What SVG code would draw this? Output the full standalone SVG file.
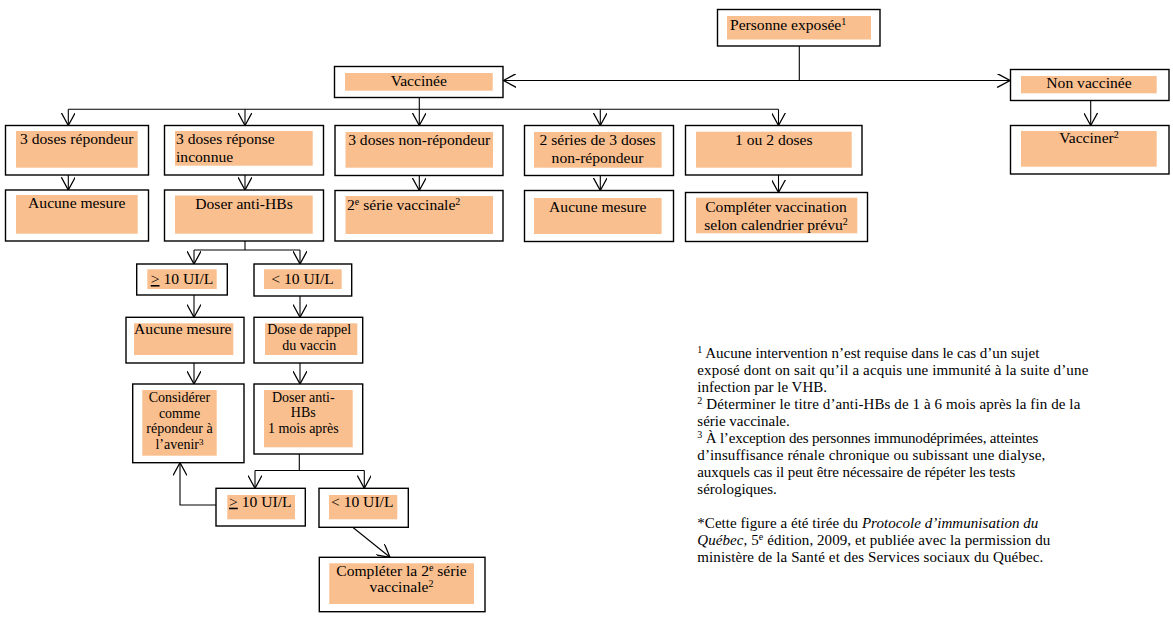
<svg xmlns="http://www.w3.org/2000/svg" width="1173" height="618" viewBox="0 0 1173 618">
<style>
.box{fill:#fff;stroke:#000;stroke-width:1.4}
.fl{fill:#F9BF8F;stroke:none}
.t{font-family:"Liberation Serif","Times New Roman",serif;font-size:15.6px;fill:#000}
.s{font-size:14px}
.c{text-anchor:middle}
.fn{font-family:"Liberation Serif","Times New Roman",serif;font-size:15px;fill:#000}
.con path{fill:none;stroke:#000;stroke-width:1.1}
</style>
<defs>
<marker id="arr" markerUnits="userSpaceOnUse" markerWidth="14" markerHeight="14" refX="11" refY="6" orient="auto-start-reverse" viewBox="0 0 12 12">
<path d="M0,0 L11,6 L0,12" fill="none" stroke="#000" stroke-width="1.1"/>
</marker>
</defs>
<rect width="1173" height="618" fill="#fff"/>

<g class="con">
<path d="M799.3,46 V80.5"/>
<path d="M503.5,80.5 H1010" marker-start="url(#arr)" marker-end="url(#arr)"/>
<path d="M419.3,97.5 V109.3"/>
<path d="M68.3,109.3 H778.5"/>
<path d="M68.3,109.3 V125.5" marker-end="url(#arr)"/>
<path d="M245,109.3 V125.5" marker-end="url(#arr)"/>
<path d="M419.3,109.3 V125.5" marker-end="url(#arr)"/>
<path d="M600.3,109.3 V125.5" marker-end="url(#arr)"/>
<path d="M778.5,109.3 V125.5" marker-end="url(#arr)"/>
<path d="M68.3,175 V190" marker-end="url(#arr)"/>
<path d="M245,175 V190" marker-end="url(#arr)"/>
<path d="M419.3,175.5 V190.5" marker-end="url(#arr)"/>
<path d="M600.3,175.5 V190.5" marker-end="url(#arr)"/>
<path d="M778.5,175 V192.5" marker-end="url(#arr)"/>
<path d="M1090.7,100.5 V125.5" marker-end="url(#arr)"/>
<path d="M245,241 V250 M194,250 H300"/>
<path d="M194,250 V264" marker-end="url(#arr)"/>
<path d="M300,250 V264" marker-end="url(#arr)"/>
<path d="M194,295 V317.3" marker-end="url(#arr)"/>
<path d="M300,296 V317.3" marker-end="url(#arr)"/>
<path d="M194,363 V384" marker-end="url(#arr)"/>
<path d="M300,363 V384" marker-end="url(#arr)"/>
<path d="M299.3,454 V470.5 M255,470.5 H364.3"/>
<path d="M255,470.5 V488.3" marker-end="url(#arr)"/>
<path d="M364.3,470.5 V488.3" marker-end="url(#arr)"/>
<path d="M216,505 H180 V462.7" marker-end="url(#arr)"/>
<path d="M352.7,527.3 L390,557.3" marker-end="url(#arr)"/>
</g>

<g id="personne">
<rect class="box" x="717.5" y="9.5" width="162.5" height="36.5"/>
<rect class="fl" x="727" y="16" width="144" height="23.5"/>
<text class="t" x="730" y="30">Personne exposée<tspan font-size="10" dy="-5">1</tspan></text>
</g>
<g id="vaccinee">
<rect class="box" x="334.5" y="66.5" width="168.5" height="31"/>
<rect class="fl" x="345" y="73" width="147.7" height="17.7"/>
<text class="t c" x="418.8" y="86">Vaccinée</text>
</g>
<g id="nonvaccinee">
<rect class="box" x="1010.5" y="69.5" width="158.5" height="31"/>
<rect class="fl" x="1021" y="76" width="135.7" height="17.3"/>
<text class="t c" x="1089" y="88.3">Non vaccinée</text>
</g>
<g id="vacciner">
<rect class="box" x="1010.5" y="125.5" width="158.5" height="48.5"/>
<rect class="fl" x="1021" y="131" width="135.7" height="35.7"/>
<text class="t c" x="1089" y="142.7">Vacciner<tspan font-size="10" dy="-5">2</tspan></text>
</g>

<g id="a1">
<rect class="box" x="5.5" y="125.5" width="143" height="49.5"/>
<rect class="fl" x="16" y="131" width="121.7" height="36.7"/>
<text class="t c" x="76.8" y="144">3 doses répondeur</text>
</g>
<g id="b1">
<rect class="box" x="164.5" y="125.5" width="159" height="49.5"/>
<rect class="fl" x="175" y="131" width="137.7" height="34.7"/>
<text class="t" x="176" y="144">3 doses réponse</text>
<text class="t" x="176" y="161.5">inconnue</text>
</g>
<g id="c1">
<rect class="box" x="335" y="125.5" width="168" height="50"/>
<rect class="fl" x="345.5" y="132" width="147.5" height="35.7"/>
<text class="t c" x="419.2" y="145">3 doses non-répondeur</text>
</g>
<g id="d1">
<rect class="box" x="524.5" y="125.5" width="149" height="50"/>
<rect class="fl" x="534" y="132" width="127.6" height="35.7"/>
<text class="t c" x="597.5" y="145">2 séries de 3 doses</text>
<text class="t c" x="597.5" y="162.5">non-répondeur</text>
</g>
<g id="e1">
<rect class="box" x="685.5" y="125.5" width="176.5" height="49.5"/>
<rect class="fl" x="696" y="131.7" width="155.7" height="36"/>
<text class="t c" x="773.8" y="145">1 ou 2 doses</text>
</g>

<g id="a2">
<rect class="box" x="5.5" y="190" width="143" height="51"/>
<rect class="fl" x="16" y="195" width="121.7" height="38.7"/>
<text class="t c" x="76.8" y="207.5">Aucune mesure</text>
</g>
<g id="b2">
<rect class="box" x="164.5" y="190" width="159" height="51"/>
<rect class="fl" x="175" y="195.5" width="137.7" height="38.2"/>
<text class="t c" x="244" y="208.5">Doser anti-HBs</text>
</g>
<g id="c2">
<rect class="box" x="335" y="190.5" width="168" height="50.5"/>
<rect class="fl" x="345.5" y="196" width="147.5" height="38"/>
<text class="t" x="347" y="209.5">2<tspan font-size="10" dy="-5">e</tspan><tspan dy="5"> série vaccinale</tspan><tspan font-size="10" dy="-5">2</tspan></text>
</g>
<g id="d2">
<rect class="box" x="524.5" y="190.5" width="149" height="51"/>
<rect class="fl" x="534" y="198" width="127.6" height="36"/>
<text class="t c" x="597.8" y="212">Aucune mesure</text>
</g>
<g id="e2">
<rect class="box" x="685.5" y="192.5" width="182" height="49"/>
<rect class="fl" x="696" y="197.7" width="161.3" height="35.6"/>
<text class="t c" x="776" y="212">Compléter vaccination</text>
<text class="t c" x="776" y="229.5">selon calendrier prévu<tspan font-size="10" dy="-5">2</tspan></text>
</g>

<g id="ge10a">
<rect class="box" x="136.7" y="264" width="90.6" height="31"/>
<rect class="fl" x="147.3" y="269.3" width="69.4" height="19.7"/>
<text class="t c" x="182" y="284"><tspan text-decoration="underline">&gt;</tspan> 10 UI/L</text>
</g>
<g id="lt10a">
<rect class="box" x="254" y="264" width="97.7" height="32"/>
<rect class="fl" x="264" y="269.3" width="77.7" height="19.7"/>
<text class="t c" x="302.6" y="284">&lt; 10 UI/L</text>
</g>
<g id="aucune3">
<rect class="box" x="126" y="317.3" width="118" height="45.7"/>
<rect class="fl" x="134" y="323.3" width="99.3" height="31.7"/>
<text class="t c" x="182.8" y="334" font-size="13.5px">Aucune mesure</text>
</g>
<g id="rappel">
<rect class="box" x="254" y="317.3" width="108.7" height="45.7"/>
<rect class="fl" x="265" y="323.3" width="92.3" height="31.7"/>
<text class="t c s" x="309.2" y="334">Dose de rappel</text>
<text class="t c s" x="309.2" y="349.5">du vaccin</text>
</g>
<g id="considerer">
<rect class="box" x="132.7" y="384" width="111.3" height="78.7"/>
<rect class="fl" x="142.3" y="390" width="74.4" height="65.7"/>
<text class="t c s" x="179.5" y="401.7">Considérer</text>
<text class="t c s" x="179.5" y="417.7">comme</text>
<text class="t c s" x="179.5" y="433.3">répondeur à</text>
<text class="t c s" x="179.5" y="448.8">l’avenir<tspan font-size="9" dy="-4">3</tspan></text>
</g>
<g id="doser2">
<rect class="box" x="254" y="384" width="108.7" height="70"/>
<rect class="fl" x="264" y="390" width="88.7" height="57.3"/>
<text class="t c s" x="303.3" y="401.7">Doser anti-</text>
<text class="t c s" x="303.3" y="416.7">HBs</text>
<text class="t c s" x="303.3" y="432.7">1 mois après</text>
</g>
<g id="ge10b">
<rect class="box" x="216" y="488.3" width="89.3" height="37.7"/>
<rect class="fl" x="227.3" y="495" width="67.7" height="24.3"/>
<text class="t c" x="260.3" y="506.7"><tspan text-decoration="underline">&gt;</tspan> 10 UI/L</text>
</g>
<g id="lt10b">
<rect class="box" x="319" y="488.3" width="89.3" height="39"/>
<rect class="fl" x="329" y="495" width="68.3" height="24.3"/>
<text class="t c" x="362.2" y="506.7">&lt; 10 UI/L</text>
</g>
<g id="completer2">
<rect class="box" x="319.3" y="557.3" width="165.7" height="54.4"/>
<rect class="fl" x="329.3" y="563.3" width="144.7" height="40.7"/>
<text class="t c" x="401.5" y="576">Compléter la 2<tspan font-size="10" dy="-5">e</tspan><tspan dy="5"> série</tspan></text>
<text class="t c" x="401.5" y="591.7">vaccinale<tspan font-size="10" dy="-5">2</tspan></text>
</g>

<g id="notes">
<text class="fn" x="697.3" y="358" textLength="342" lengthAdjust="spacing"><tspan font-size="10" dy="-5">1</tspan><tspan dy="5"> Aucune intervention n’est requise dans le cas d’un sujet</tspan></text>
<text class="fn" x="697.3" y="375" textLength="391" lengthAdjust="spacing">exposé dont on sait qu’il a acquis une immunité à la suite d’une</text>
<text class="fn" x="697.3" y="392">infection par le VHB.</text>
<text class="fn" x="697.3" y="409" textLength="383" lengthAdjust="spacing"><tspan font-size="10" dy="-5">2</tspan><tspan dy="5"> Déterminer le titre d’anti-HBs de 1 à 6 mois après la fin de la</tspan></text>
<text class="fn" x="697.3" y="426">série vaccinale.</text>
<text class="fn" x="697.3" y="443" textLength="341" lengthAdjust="spacing"><tspan font-size="10" dy="-5">3</tspan><tspan dy="5"> À l’exception des personnes immunodéprimées, atteintes</tspan></text>
<text class="fn" x="697.3" y="460" textLength="348" lengthAdjust="spacing">d’insuffisance rénale chronique ou subissant une dialyse,</text>
<text class="fn" x="697.3" y="477" textLength="318" lengthAdjust="spacing">auxquels cas il peut être nécessaire de répéter les tests</text>
<text class="fn" x="697.3" y="494">sérologiques.</text>
<text class="fn" x="697.3" y="528" textLength="341" lengthAdjust="spacing">*Cette figure a été tirée du <tspan font-style="italic">Protocole d’immunisation du</tspan></text>
<text class="fn" x="697.3" y="545" textLength="353" lengthAdjust="spacing"><tspan font-style="italic">Québec</tspan>, 5<tspan font-size="10" dy="-5">e</tspan><tspan dy="5"> édition, 2009, et publiée avec la permission du</tspan></text>
<text class="fn" x="697.3" y="562" textLength="346" lengthAdjust="spacing">ministère de la Santé et des Services sociaux du Québec.</text>
</g>
</svg>
